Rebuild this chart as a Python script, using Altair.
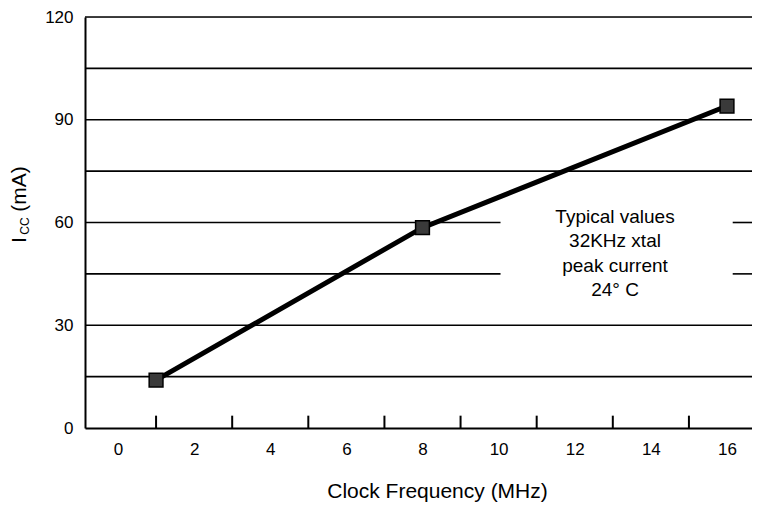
import altair as alt
import pandas as pd

# ---- data ----
freq = [1, 8, 16]                 # Clock frequency (MHz)
icc = [14, 58.5, 94]              # Icc (mA)
x_label_values = [0, 2, 4, 6, 8, 10, 12, 14, 16]
x_tick_values = [1, 3, 5, 7, 9, 11, 13, 15]
y_label_values = [0, 30, 60, 90, 120]
grid_levels = [15, 30, 45, 60, 75, 90, 105, 120]
broken_levels = [45, 60]          # gridlines interrupted by the note
note_lines = ["Typical values", "32KHz xtal", "peak current", "24° C"]

# ---- layout ----
X_DOMAIN = [-0.867, 16.657]
Y_DOMAIN = [0, 120]
GAP = [10.05, 16.15]
W, H = 667, 411
FONT = "Liberation Sans"

xs = alt.Scale(domain=X_DOMAIN, nice=False, zero=False)
ys = alt.Scale(domain=Y_DOMAIN, nice=False, zero=False)

# gridline segments
segs = []
for lv in grid_levels:
    if lv in broken_levels:
        segs.append({"x": X_DOMAIN[0], "x2": GAP[0], "y": lv})
        segs.append({"x": GAP[1], "x2": X_DOMAIN[1], "y": lv})
    else:
        segs.append({"x": X_DOMAIN[0], "x2": X_DOMAIN[1], "y": lv})
grid_df = pd.DataFrame(segs)

ticks_df = pd.DataFrame({"x": x_tick_values, "y": [0] * len(x_tick_values),
                         "y2": [3.6] * len(x_tick_values)})
data_df = pd.DataFrame({"freq": freq, "icc": icc})

x_axis = alt.Axis(
    values=x_label_values, ticks=False, grid=False, domainColor="black",
    domainWidth=2, labelFont=FONT, labelFontSize=17, labelColor="black",
    labelPadding=13, labelFlush=False, labelOverlap=False,
    title="Clock Frequency (MHz)", titleFont=FONT, titleFontSize=21,
    titleFontWeight="normal", titleColor="black", titleX=352, titleY=63,
    titleBaseline="middle", titleAlign="center",
)
y_axis = alt.Axis(
    values=y_label_values, ticks=False, grid=False, domainColor="black",
    domainWidth=2, labelFont=FONT, labelFontSize=17, labelColor="black",
    labelPadding=12, labelFlush=False, labelOverlap=False, title=None,
)

grid = alt.Chart(grid_df).mark_rule(color="black", strokeWidth=1.6).encode(
    x=alt.X("x:Q", scale=xs, axis=x_axis),
    x2="x2:Q",
    y=alt.Y("y:Q", scale=ys, axis=y_axis),
)

ticks = alt.Chart(ticks_df).mark_rule(color="black", strokeWidth=2).encode(
    x=alt.X("x:Q", scale=xs, axis=x_axis),
    y=alt.Y("y:Q", scale=ys, axis=y_axis),
    y2="y2:Q",
)

line = alt.Chart(data_df).mark_line(color="black", strokeWidth=5).encode(
    x=alt.X("freq:Q", scale=xs, axis=x_axis),
    y=alt.Y("icc:Q", scale=ys, axis=y_axis),
)

points = alt.Chart(data_df).mark_point(
    shape="square", size=190, filled=True, fill="#3a3a3a", stroke="black",
    strokeWidth=1.5, opacity=1,
).encode(
    x=alt.X("freq:Q", scale=xs, axis=x_axis),
    y=alt.Y("icc:Q", scale=ys, axis=y_axis),
)

note = alt.Chart(pd.DataFrame({"k": [0]})).mark_text(
    text=note_lines, font=FONT, fontSize=19, color="black", align="center",
    baseline="middle", lineHeight=24.3,
).encode(x=alt.value(530), y=alt.value(200))

title_paren = alt.Chart(pd.DataFrame({"k": [0]})).mark_text(
    text="(mA)", font=FONT, fontSize=21, color="black", angle=270,
    align="center", baseline="middle",
).encode(x=alt.value(-65.5), y=alt.value(172))

title_i = alt.Chart(pd.DataFrame({"k": [0]})).mark_text(
    text="I", font=FONT, fontSize=21, color="black", angle=270,
    align="center", baseline="middle",
).encode(x=alt.value(-65.5), y=alt.value(223))

title_cc = alt.Chart(pd.DataFrame({"k": [0]})).mark_text(
    text="CC", font=FONT, fontSize=12, color="black", angle=270,
    align="center", baseline="middle",
).encode(x=alt.value(-60.5), y=alt.value(209))

chart = alt.layer(
    grid, ticks, line, points, note, title_paren, title_i, title_cc
).properties(
    width=W, height=H,
    padding={"left": 77, "top": 9, "right": 0, "bottom": 76},
    autosize=alt.AutoSizeParams(type="none"),
).configure_view(stroke=None).configure(background="white")

chart.save("out.html", embed_options={"renderer": "svg", "actions": False})
